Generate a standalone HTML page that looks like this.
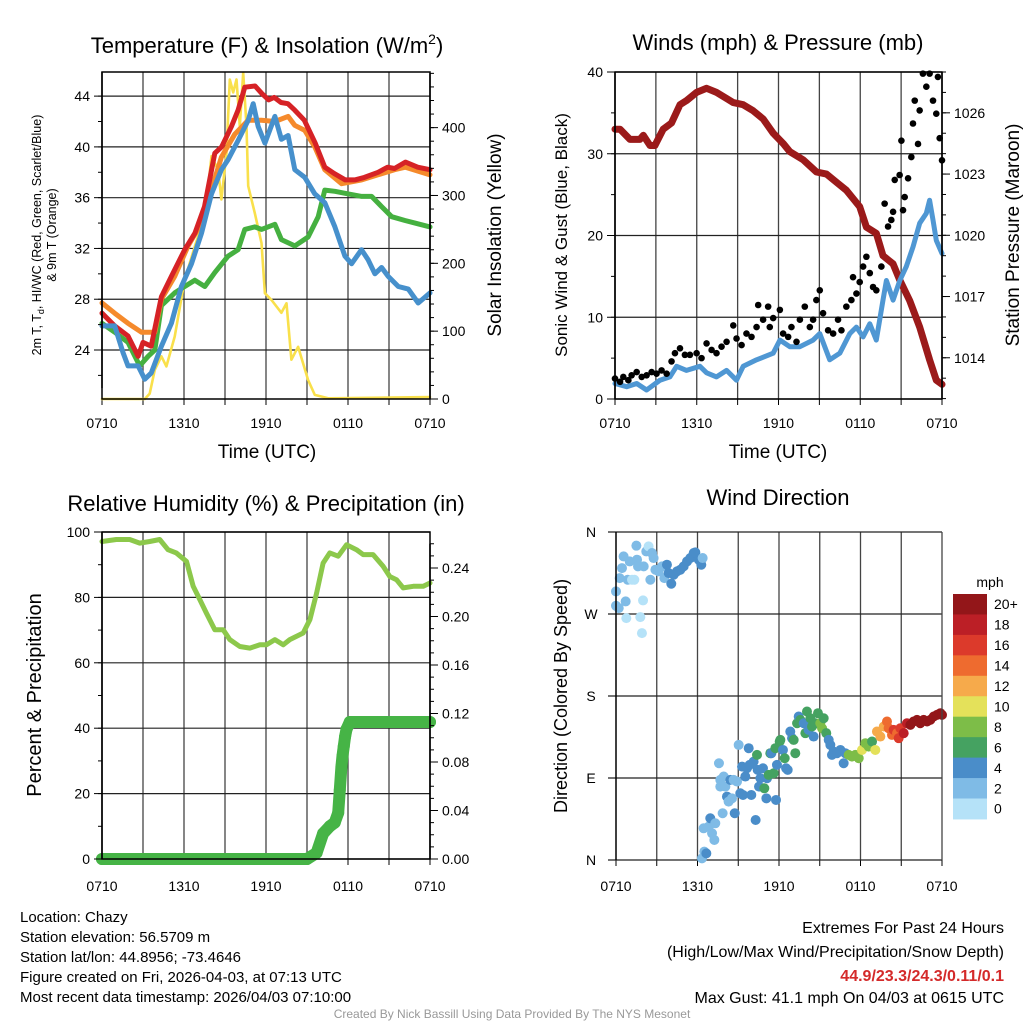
<!DOCTYPE html>
<html><head><meta charset="utf-8"><style>
html,body{margin:0;padding:0;background:#fff;}
svg{display:block;font-family:"Liberation Sans",Arial,sans-serif;}
</style></head><body>
<svg id="chart" width="1024" height="1024" viewBox="0 0 1024 1024" xmlns="http://www.w3.org/2000/svg">
<g id="static">
<text x="267" y="53" font-size="22" text-anchor="middle">Temperature (F) &amp; Insolation (W/m<tspan font-size="14" dy="-9">2</tspan><tspan dy="9">)</tspan></text>
<text x="778" y="50" font-size="22" text-anchor="middle">Winds (mph) &amp; Pressure (mb)</text>
<text x="266" y="511" font-size="22" text-anchor="middle">Relative Humidity (%) &amp; Precipitation (in)</text>
<text x="778" y="505" font-size="22" text-anchor="middle">Wind Direction</text>
<text x="267" y="458" font-size="19" text-anchor="middle">Time (UTC)</text>
<text x="778" y="458" font-size="19" text-anchor="middle">Time (UTC)</text>
<text transform="translate(41,235) rotate(-90)" font-size="12.5" text-anchor="middle">2m T, T<tspan font-size="9" dy="3">d</tspan><tspan dy="-3">, HI/WC (Red, Green, Scarlet/Blue)</tspan></text>
<text transform="translate(56,235) rotate(-90)" font-size="12.5" text-anchor="middle">&amp; 9m T (Orange)</text>
<text transform="translate(501,235) rotate(-90)" font-size="19" text-anchor="middle">Solar Insolation (Yellow)</text>
<text transform="translate(567,235) rotate(-90)" font-size="17" text-anchor="middle">Sonic Wind &amp; Gust (Blue, Black)</text>
<text transform="translate(1019,235) rotate(-90)" font-size="19" text-anchor="middle">Station Pressure (Maroon)</text>
<text transform="translate(41,695) rotate(-90)" font-size="20" text-anchor="middle">Percent &amp; Precipitation</text>
<text transform="translate(567,696) rotate(-90)" font-size="18" text-anchor="middle">Direction (Colored By Speed)</text>
<text x="990" y="587" font-size="14" text-anchor="middle">mph</text>
<g font-size="15">
<text x="20" y="922">Location: Chazy</text>
<text x="20" y="942">Station elevation: 56.5709 m</text>
<text x="20" y="962">Station lat/lon: 44.8956; -73.4646</text>
<text x="20" y="982">Figure created on Fri, 2026-04-03, at 07:13 UTC</text>
<text x="20" y="1002">Most recent data timestamp: 2026/04/03 07:10:00</text>
</g>
<g font-size="16" text-anchor="end">
<text x="1004" y="933">Extremes For Past 24 Hours</text>
<text x="1004" y="957">(High/Low/Max Wind/Precipitation/Snow Depth)</text>
<text x="1004" y="981" fill="#d42a2a" font-weight="bold">44.9/23.3/24.3/0.11/0.1</text>
<text x="1004" y="1003">Max Gust: 41.1 mph On 04/03 at 0615 UTC</text>
</g>
<text x="512" y="1018" font-size="12" fill="#999" text-anchor="middle">Created By Nick Bassill Using Data Provided By The NYS Mesonet</text>
</g>
</svg>
<script>
// ---------- data ----------
var xTickLabels = ["0710","1310","1910","0110","0710"];
var tempTicks = [24,28,32,36,40,44];
var solarTicks = [0,100,200,300,400];
var windTicks = [0,10,20,30,40];
var pressTicks = [1014,1017,1020,1023,1026];
var rhTicks = [0,20,40,60,80,100];
var precipTicks = [0,0.04,0.08,0.12,0.16,0.20,0.24];
var dirTickVals = [0,90,180,270,360];
var dirTickLabels = ["N","E","S","W","N"];
var speedBinLabels = ["0","2","4","6","8","10","12","14","16","18","20+"];
var speedBinColors = ["#b5e2f8","#7fbbe6","#4a8dc9","#45a261","#7dbd48","#e4e15a","#f6aa4b","#ee6b2f","#dc3a2b","#bc1f26","#931619"];

var tRedHr = [0,0.93,1.9,2.64,3.0,3.6,4.1,4.35,5.08,6.05,6.8,7.5,8.25,8.75,9.47,9.96,10.45,11.2,11.7,12.2,12.6,13.1,13.6,14.1,14.8,15.6,16.3,17.0,17.8,18.5,19.2,20.2,20.9,21.4,22.2,23.1,24];
var tRed = [26.9,25.9,25.1,23.5,24.6,24.3,26.9,28.2,29.8,31.9,33.2,35.3,39.5,40.0,41.6,42.9,44.7,44.8,44.2,43.7,43.9,43.5,43.4,42.9,42.1,40.3,38.4,37.9,37.4,37.4,37.6,38.0,38.4,38.3,38.8,38.4,38.2];
var tOrangeHr = [0,0.93,1.9,2.88,3.86,4.35,5.32,6.3,7.27,8.0,8.74,9.72,10.7,11.67,12.65,13.62,14.1,14.84,15.57,16.3,17.53,19.0,20.2,21.4,22.2,24];
var tOrange = [27.7,26.9,26.1,25.4,25.4,28.0,29.8,32.2,34.0,36.6,39.2,41.0,42.1,42.1,42.0,42.4,41.7,41.3,40.0,38.2,37.1,37.4,37.8,38.2,38.4,37.8];
var tDewHr = [0,0.93,1.9,2.76,3.37,3.86,4.35,5.32,6.05,6.79,7.52,8.25,9.23,9.96,10.45,11.18,11.67,12.65,13.13,14.11,15.08,15.82,16.3,17.04,18.02,19.0,19.73,20.46,21.2,22.17,22.9,24];
var tDew = [26.1,25.4,24.6,22.75,23.5,24.0,27.5,28.5,29.0,29.5,29.0,30.1,31.4,31.9,33.5,33.7,33.5,33.9,32.7,32.2,32.9,34.5,36.6,36.5,36.3,36.1,36.1,35.3,34.5,34.2,34.0,33.7];
var tWcHr = [0,0.93,1.54,1.9,2.64,3.13,3.61,4.35,5.08,5.81,6.55,7.28,8.01,8.74,9.23,9.96,10.7,11.06,11.43,11.92,12.65,13.13,13.62,14.11,14.84,15.57,16.3,17.04,17.77,18.26,18.99,19.48,19.97,20.46,20.94,21.68,22.41,23.14,24];
var tWc = [25.9,25.9,23.8,22.75,22.75,21.7,22.2,24.3,26.1,29.0,30.8,33.2,36.3,38.2,39.0,40.5,42.1,43.4,41.6,40.3,42.4,40.6,40.9,38.2,37.6,36.3,35.6,33.7,31.4,30.8,31.9,31.1,30.0,30.5,29.8,29.0,28.8,27.7,28.5];
var solarHr = [0,3.13,3.49,3.86,4.35,4.71,5.32,6.05,6.79,7.28,7.77,8.01,8.5,8.74,9.11,9.35,9.6,9.84,10.08,10.33,10.57,10.7,11.18,11.67,11.92,12.4,13.13,13.5,13.86,14.35,15.08,15.57,16.55,24];
var solar = [0,0,8,43,63,48,92,176,225,255,314,358,337,294,363,471,452,471,402,481,402,314,274,230,156,146,127,141,58,77,28,6,1,3];
var presHr = [0,0.37,1.1,1.83,2.08,2.57,2.93,3.54,4.15,4.77,5.25,5.99,6.72,7.45,8.19,8.68,9.41,10.14,10.87,11.61,12.34,12.83,13.81,14.79,15.52,16.25,16.99,17.96,18.45,19.18,19.67,20.41,20.9,21.63,22.36,23.09,23.58,24];
var pressure = [1025.2,1025.2,1024.7,1024.7,1024.9,1024.4,1024.4,1025.2,1025.5,1026.4,1026.6,1027.0,1027.2,1027.0,1026.7,1026.5,1026.4,1026.1,1025.7,1025.0,1024.5,1024.1,1023.7,1023.1,1023.0,1022.6,1022.2,1021.4,1020.4,1020.1,1019.0,1018.6,1017.8,1016.8,1015.5,1013.9,1012.9,1012.7];
var windHr = [0,0.86,1.59,2.32,3.3,4.03,4.52,5.25,6.23,6.72,7.45,8.19,8.92,9.41,10.39,11.61,12.1,12.83,13.57,14.54,15.03,15.76,16.5,17.23,17.72,18.21,18.7,19.18,19.67,19.92,20.41,20.9,21.38,21.87,22.36,22.85,23.09,23.34,23.58,24];
var wind = [1.9,1.5,1.9,1.1,2.3,2.7,4.0,3.5,4.0,3.2,2.7,3.5,2.3,4.0,4.8,5.6,7.2,6.4,6.4,7.2,8.0,4.8,5.6,8.0,8.8,7.6,9.2,7.2,12.1,14.5,12.1,14.5,16.2,18.6,21.5,22.7,24.3,21.9,19.4,17.8];
var gustHr = [0,0.37,0.61,0.98,1.22,1.59,1.96,2.32,2.69,3.05,3.42,3.79,4.15,4.4,4.77,5.13,5.5,5.99,6.35,6.72,7.09,7.45,7.82,8.19,8.68,8.92,9.29,9.65,10.02,10.39,10.51,10.87,11.24,11.36,11.61,12.1,12.34,12.71,12.95,13.32,13.57,13.93,14.3,14.54,14.78,15.03,15.27,15.64,16.01,16.37,16.62,16.98,17.35,17.47,17.72,17.96,18.21,18.45,18.7,18.94,19.18,19.55,19.79,20.04,20.28,20.41,20.53,20.89,21.02,21.14,21.26,21.51,21.75,21.87,22.0,22.24,22.36,22.6,22.85,23.09,23.34,23.58,23.7,23.83,24];
var gust = [2.5,2.1,2.7,2.3,2.9,3.3,2.7,2.9,3.3,3.1,3.5,3.1,4.6,5.6,6.2,5.4,5.4,5.6,5.0,6.8,6.0,5.6,6.4,7.0,9.0,7.4,6.6,8.0,7.6,8.8,11.5,9.7,11.3,8.8,9.9,10.9,8.0,7.6,8.8,7.0,9.7,11.3,8.8,9.7,12.1,13.3,10.5,8.4,8.0,9.7,8.4,11.3,12.1,14.9,12.9,14.3,16.2,17.4,15.4,13.7,13.3,16.2,23.9,21.1,21.9,22.9,26.8,27.4,31.6,23.1,24.7,27.0,29.6,33.7,36.5,31.2,35.3,39.8,38.2,39.8,36.5,34.9,39.4,31.9,29.2];
var rhHr = [0,1.05,2.03,2.76,3.49,4.22,4.83,5.44,6.18,6.67,7.16,7.64,8.25,8.87,9.35,10.08,10.82,11.55,12.04,12.65,13.26,13.74,14.72,15.21,15.7,16.18,16.67,17.28,17.89,18.62,19.11,19.84,20.57,21.06,21.55,22.04,22.78,23.51,24];
var rh = [97.1,97.7,97.7,96.6,97.1,97.7,94.6,93.6,91.0,83.4,79.3,75.2,70.1,70.1,67.1,65.0,64.5,65.5,65.5,67.1,65.5,67.1,69.1,73.2,81.3,90.5,93.6,92.6,96.1,94.6,93.1,93.1,89.5,86.4,85.4,82.9,83.4,83.4,84.4];
var precipHr = [0,1,2,3,4,5,6,7,8,9,10,11,12,13,14,15,15.7,16.18,16.67,17.03,17.28,17.4,17.52,17.6,17.69,17.79,17.89,18.13,19,20,21,22,23,24];
var precip = [0,0,0,0,0,0,0,0,0,0,0,0,0,0,0,0,0.005,0.021,0.027,0.030,0.038,0.057,0.076,0.085,0.093,0.101,0.107,0.113,0.113,0.113,0.113,0.113,0.113,0.113];
var dirHr = [0,0,0.2,0.27,0.44,0.56,0.71,0.76,0.86,1.01,1.18,1.35,1.5,1.55,1.62,1.79,1.91,1.99,2.04,2.23,2.4,2.53,2.65,2.77,2.9,3.14,3.39,3.56,3.75,3.88,4.07,4.25,4.49,4.74,4.98,5.23,5.47,5.72,5.84,6.09,6.28,6.38,
 6.33,6.5,6.65,6.45,6.82,6.94,7.07,7.24,7.31,7.58,7.68,7.85,7.68,7.93,8.05,8.17,8.29,8.42,8.54,8.66,8.74,8.91,9.03,9.15,9.28,9.35,9.52,9.64,9.77,9.84,9.96,10.13,10.28,10.38,10.43,10.53,10.63,10.82,10.92,11.07,11.12,11.24,11.36,11.44,11.61,11.73,11.78,11.85,12.05,12.1,12.29,12.42,12.52,12.64,12.83,12.96,13.08,13.2,13.33,13.45,13.57,13.82,13.94,14.06,14.18,14.31,14.43,14.55,14.67,14.87,15.04,15.17,15.29,15.48,15.66,15.78,15.9,16.02,16.27,16.52,16.76,16.88,17.13,17.37,17.62,17.87,18.11,18.36,18.6,18.85,19.09,19.21,19.46,19.71,19.95,20.07,20.32,20.44,20.69,20.81,20.93,21.18,21.42,21.67,21.91,22.16,22.4,22.65,22.9,23.14,23.39,23.63,23.88,24];
var dirDeg = [294.8,279,276.5,309.4,320.4,333.2,283.8,265.5,307.6,327.7,307.6,307.6,345,329.6,322.3,266.6,249,284.9,322.3,338.7,344.2,307.6,336.9,331.4,318.6,316.8,322.3,309.4,324.1,314.9,303.2,313.1,316.8,318.6,322.3,327.7,331.4,336.9,337.6,329.6,324.1,331.4,
 1.8,9.2,7.3,34.8,36.6,45.8,29.3,22,40.3,106.2,80.6,51.3,87.9,91.6,80.6,69.6,64.1,87.9,67.7,87.9,51.3,86.1,126.3,73.2,102.5,71.4,91.6,100.7,122.7,104.4,71.4,108,43.9,115.4,98.9,80.6,89.7,100.7,78.7,67.7,89.7,93.4,117.2,117.2,95.2,122.7,65.9,104.4,130,131.8,120.8,111.7,100.7,98.9,141,133.7,131.8,117.2,150.1,157.5,153.8,150.1,139.2,163,142.8,155.6,146.5,135.5,150.1,161.1,150.1,144.6,155.6,139.2,131.8,126.3,115.4,119,117.2,120.8,106.2,117.2,115.4,113.5,115.4,111.7,120.8,128.2,124.5,130,120.8,141,135.5,146.5,152,144.6,137.3,142.8,139.2,133.7,144.6,139.2,150.1,148.3,152,153.8,150.1,153.8,152,153.8,157.5,159.3,161.1,159.3];
var dirSpeed = [3,2,3,2,3,2,2,1,2,3,1,1,2,3,3,1,1,1,3,2,1,2,2,3,3,2,2,3,4,4,4,4,5,4,5,4,5,4,5,5,4,3,
 2,3,4,2,3,4,3,2,3,3,3,2,3,3,3,4,3,4,3,3,4,3,3,5,4,4,5,4,4,5,5,4,4,6,5,4,4,5,7,4,5,6,7,5,7,6,4,5,6,6,5,6,4,4,5,5,6,6,7,5,6,5,6,6,4,7,6,5,6,7,8,8,6,7,4,5,4,4,5,4,5,5,8,8,9,9,10,9,9,7,10,13,13,12,14,15,15,16,14,17,17,18,19,20,21,20,21,21,22,21,22,22,23,22];

// ---------- helpers ----------
var NS = "http://www.w3.org/2000/svg";
var svg = document.getElementById("chart");
function mk(tag, attrs, parent) {
  var el = document.createElementNS(NS, tag);
  for (var k in attrs) el.setAttribute(k, attrs[k]);
  (parent || svg).appendChild(el);
  return el;
}
function lin(d0, d1, r0, r1) { return function (v) { return r0 + (v - d0) * (r1 - r0) / (d1 - d0); }; }
function pathFrom(xs, ys, fx, fy) {
  var d = "";
  for (var i = 0; i < xs.length; i++) d += (i ? "L" : "M") + fx(xs[i]).toFixed(1) + "," + fy(ys[i]).toFixed(1);
  return d;
}
function binColor(s) { return speedBinColors[Math.min(10, Math.max(0, Math.floor(s / 2)))]; }

function panelFrame(name, x0, x1, y0, y1, fx, xLabelY) {
  var g = mk("g", {});
  
  
  for (var h = 3; h < 24; h += 3) {
    var vl = mk("line", {x1: fx(h), x2: fx(h), y1: y0, y2: y1, stroke: "#444", "stroke-width": 1.3}, g);
    
    
  }
  for (var h2 = 0; h2 <= 24; h2 += 3) {
    var t = mk("line", {x1: fx(h2), x2: fx(h2), y1: y1, y2: y1 + 6, stroke: "#000", "stroke-width": 1}, g);
    
    
  }
  for (var i = 0; i < xTickLabels.length; i++) {
    var lb = mk("text", {x: fx(i * 6), y: xLabelY, "font-size": 14, "text-anchor": "middle"}, g);
    lb.textContent = xTickLabels[i];
    
    
  }
  return g;
}
function hGrid(name, vals, fy, x0, x1) {
  vals.forEach(function (v) {
    var y = fy(v);
    var l = mk("line", {x1: x0, x2: x1, y1: y, y2: y, stroke: "#222", "stroke-width": 1.2});
    
    
  });
}
function yAxis(name, ticks, fy, x, side, minorStep, dmin, dmax, fmt) {
  var dir = side === "left" ? -1 : 1;
  var ax = mk("line", {x1: x, x2: x, y1: fy(dmin), y2: fy(dmax), stroke: "#000", "stroke-width": 1.5});
  
  
  if (minorStep) {
    for (var v = Math.ceil(dmin / minorStep) * minorStep; v <= dmax + 1e-9; v += minorStep) {
      var mt = mk("line", {x1: x, x2: x + dir * 4, y1: fy(v), y2: fy(v), stroke: "#000", "stroke-width": 1});
      
      
    }
  }
  ticks.forEach(function (tv) {
    var tk = mk("line", {x1: x, x2: x + dir * 8, y1: fy(tv), y2: fy(tv), stroke: "#000", "stroke-width": 1});
    
    
    var tl = mk("text", {x: x + dir * 12, y: fy(tv) + 5, "font-size": 14, "text-anchor": side === "left" ? "end" : "start"});
    tl.textContent = fmt ? fmt(tv) : String(tv);
    
    
  });
}
function series(name, xs, ys, fx, fy, color, w, op) {
  var p = mk("path", {d: pathFrom(xs, ys, fx, fy), fill: "none", stroke: color, "stroke-width": w, "stroke-linejoin": "round", "stroke-linecap": "round", opacity: op || 1});
  
  
  return p;
}

// ---------- panel 1: temperature ----------
(function () {
  var x0 = 102, x1 = 430, y0 = 72, y1 = 399;
  var fx = lin(0, 24, x0, x1);
  var fy = lin(20.14, 45.9, y1, y0);
  var fs = lin(0, 482, y1, y0);
  panelFrame("temperature", x0, x1, y0, y1, fx, 428);
  hGrid("temperature", tempTicks, fy, x0, x1);
  series("solar-insolation-line", solarHr, solar, fx, fs, "#f9e04b", 2.6);
  series("dewpoint-line", tDewHr, tDew, fx, fy, "#45b040", 5);
  series("temp-9m-line", tOrangeHr, tOrange, fx, fy, "#f58a2c", 5);
  series("temp-2m-line", tRedHr, tRed, fx, fy, "#d62226", 5);
  series("windchill-line", tWcHr, tWc, fx, fy, "#4690cc", 5);
  var bx = mk("rect", {x: x0, y: y0, width: x1 - x0, height: y1 - y0, fill: "none", stroke: "#000", "stroke-width": 1.5});
  
  
  yAxis("temperature-y", tempTicks, fy, x0, "left", 2, 21, 45.9);
  yAxis("solar-y", solarTicks, fs, x1, "right", 20, 0, 480);
})();

// ---------- panel 2: winds & pressure ----------
(function () {
  var x0 = 615, x1 = 942, y0 = 72, y1 = 399;
  var fx = lin(0, 24, x0, x1);
  var fy = lin(0, 40, y1, y0);
  var fp = lin(1011.98, 1028.0, y1, y0);
  panelFrame("wind", x0, x1, y0, y1, fx, 428);
  hGrid("wind", windTicks, fy, x0, x1);
  series("pressure-line", presHr, pressure, fx, fp, "#9b1a1a", 7);
  series("sonic-wind-line", windHr, wind, fx, fy, "#4f97d3", 5);
  for (var i = 0; i < gust.length; i++) {
    var c = mk("circle", {cx: fx(gustHr[i]), cy: fy(gust[i]), r: 3.3, fill: "#000"});
    
    
  }
  var bx = mk("rect", {x: x0, y: y0, width: x1 - x0, height: y1 - y0, fill: "none", stroke: "#000", "stroke-width": 1.5});
  
  
  yAxis("wind-y", windTicks, fy, x0, "left", 5, 0, 40);
  yAxis("pressure-y", pressTicks, fp, x1, "right", 1, 1012, 1028);
})();

// ---------- panel 3: RH & precip ----------
(function () {
  var x0 = 102, x1 = 430, y0 = 532, y1 = 859;
  var fx = lin(0, 24, x0, x1);
  var fy = lin(0, 100, y1, y0);
  var fpr = lin(0, 0.2697, y1, y0);
  panelFrame("humidity", x0, x1, y0, y1, fx, 891);
  hGrid("humidity", rhTicks, fy, x0, x1);
  series("relative-humidity-line", rhHr, rh, fx, fy, "#8cc84b", 5);
  series("precipitation-line", precipHr, precip, fx, fpr, "#46b446", 12);
  for (var i = 0; i < precip.length; i++) {
    var c = mk("circle", {cx: fx(precipHr[i]), cy: fpr(precip[i]), r: 6, fill: "#46b446"});
    
    
  }
  var bx = mk("rect", {x: x0, y: y0, width: x1 - x0, height: y1 - y0, fill: "none", stroke: "#000", "stroke-width": 1.5});
  
  
  yAxis("humidity-y", rhTicks, fy, x0, "left", 10, 0, 100);
  yAxis("precip-y", precipTicks, fpr, x1, "right", 0.01, 0, 0.26, function (v) { return v.toFixed(2); });
})();

// ---------- panel 4: wind direction ----------
(function () {
  var x0 = 616, x1 = 942, y0 = 532, y1 = 860;
  var fx = lin(0, 24, x0, x1);
  var fy = lin(0, 360, y1, y0);
  panelFrame("direction", x0, x1, y0, y1, fx, 891);
  hGrid("direction", dirTickVals, fy, x0 - 8, x1);
  for (var i = 0; i < dirTickLabels.length; i++) {
    var t = mk("text", {x: 591, y: fy(dirTickVals[i]) + 5, "font-size": 14, "text-anchor": "middle"});
    t.textContent = dirTickLabels[i];
    
    
  }
  for (var j = 0; j < dirDeg.length; j++) {
    var c = mk("circle", {cx: fx(dirHr[j]), cy: fy(dirDeg[j]), r: 5, fill: binColor(dirSpeed[j])});
    
    
  }
  var al = mk("line", {x1: x0, x2: x0, y1: y0, y2: y1, stroke: "#000", "stroke-width": 1.5});
  
  
  var rl = mk("line", {x1: x1, x2: x1, y1: y0, y2: y1, stroke: "#444", "stroke-width": 1.3});
  
  
  var cbTop = 594, cbH = 20.45;
  for (var k = 0; k < speedBinColors.length; k++) {
    var idx = speedBinColors.length - 1 - k;
    var r = mk("rect", {x: 953, y: cbTop + k * cbH, width: 34, height: cbH + 0.5, fill: speedBinColors[idx]});
    
    
    var lt = mk("text", {x: 994, y: cbTop + k * cbH + cbH / 2 + 5, "font-size": 14});
    lt.textContent = speedBinLabels[idx];
    
    
  }
})();
</script>
</body></html>
